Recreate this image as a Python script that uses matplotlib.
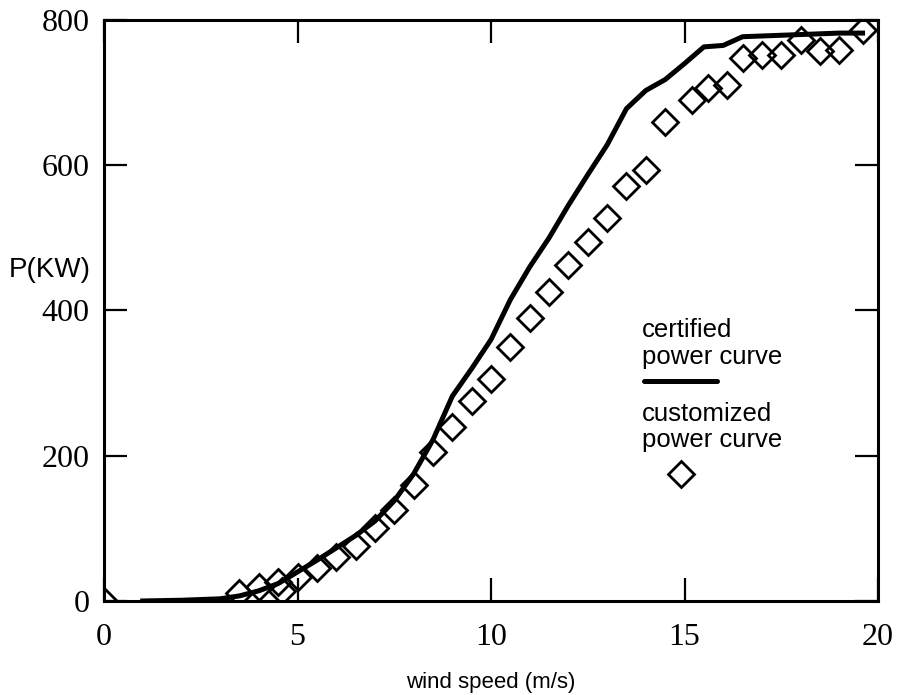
import matplotlib
matplotlib.use("Agg")
import matplotlib.pyplot as plt

# Certified power curve (wind speed m/s, power kW)
cert_speed = [1.0, 2.0, 3.0, 3.5, 4.0, 4.5, 5.0, 5.5, 6.0, 6.5, 7.0, 7.5, 8.0,
              8.5, 9.0, 9.5, 10.0, 10.5, 11.0, 11.5, 12.0, 12.5, 13.0, 13.5,
              14.0, 14.5, 15.0, 15.5, 16.0, 16.5, 17.0, 18.0, 19.0, 19.6]
cert_power = [0, 1, 3, 7, 14, 24, 40, 56, 73, 90, 110, 138, 175,
              222, 282, 320, 360, 415, 460, 500, 545, 587, 628, 678,
              703, 718, 740, 763, 765, 777, 778, 780, 782, 782]

# Customized power curve measurements
cust_speed = [0.0, 3.5, 4.0, 4.5, 4.6, 5.0, 5.5, 6.0, 6.5, 7.0, 7.5, 8.0,
              8.5, 9.0, 9.5, 10.0, 10.5, 11.0, 11.5, 12.0, 12.5, 13.0, 13.5,
              14.0, 14.5, 15.2, 15.6, 16.1, 16.5, 17.0, 17.5, 18.0, 18.5,
              19.0, 19.6]
cust_power = [0, 11, 19, 26, 14, 33, 45, 60, 76, 100, 125, 160,
              205, 240, 275, 305, 350, 390, 425, 462, 494, 528, 572,
              594, 660, 690, 706, 710, 748, 752, 752, 773, 757,
              759, 786]

x_ticks = [0, 5, 10, 15, 20]
y_ticks = [0, 200, 400, 600, 800]

fig = plt.figure(figsize=(9.11, 6.95), dpi=100)
ax = fig.add_axes([0.1142, 0.1353, 0.8496, 0.8359])

ax.plot(cert_speed, cert_power, color="black", lw=3.6, solid_joinstyle="round",
        zorder=3)
ax.plot(cust_speed, cust_power, ls="none", marker="D", ms=13.5,
        mfc="none", mec="black", mew=2.0, zorder=4)

ax.set_xlim(0, 20)
ax.set_ylim(0, 800)
ax.set_xticks(x_ticks)
ax.set_yticks(y_ticks)
ax.set_xticklabels([str(v) for v in x_ticks])
ax.set_yticklabels([str(v) for v in y_ticks])

serif = ["Liberation Serif", "DejaVu Serif"]
sans = ["Liberation Sans", "DejaVu Sans"]
for lab in ax.get_xticklabels() + ax.get_yticklabels():
    lab.set_family(serif)
    lab.set_fontsize(23)

ax.tick_params(axis="both", direction="in", length=16.5, width=1.6,
               top=True, right=True, color="black")
ax.tick_params(axis="x", pad=16)
ax.tick_params(axis="y", pad=10.5)
for s in ax.spines.values():
    s.set_linewidth(2.2)
    s.set_color("black")

ax.set_xlabel("wind speed (m/s)", family=sans, fontsize=16, labelpad=14)
ax.text(-0.123, 0.57, "P(KW)", transform=ax.transAxes, family=sans,
        fontsize=20, ha="left", va="center")

# Legend drawn as annotations inside the axes
ax.text(13.9, 354, "certified\npower curve", family=sans, fontsize=18.5,
        ha="left", va="center", linespacing=1.15)
ax.plot([13.95, 15.85], [303, 303], color="black", lw=3.6,
        solid_capstyle="round")
ax.text(13.9, 240, "customized\npower curve", family=sans, fontsize=18.5,
        ha="left", va="center", linespacing=1.1)
ax.plot([14.9], [175], marker="D", ms=13.5, mfc="none", mec="black", mew=2.0)

fig.savefig("out.png", dpi=100)
